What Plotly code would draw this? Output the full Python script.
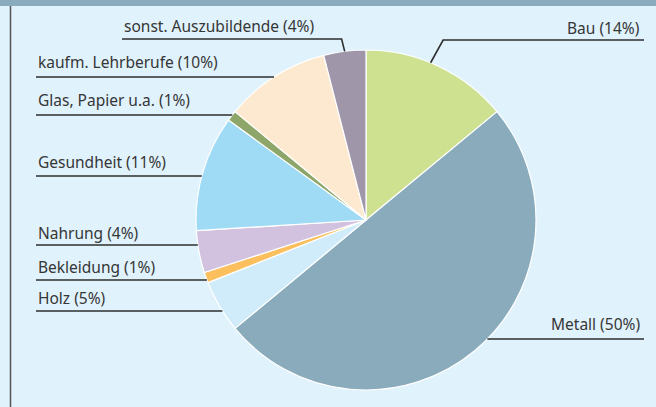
import math
import plotly.graph_objects as go

# ---- data ----
labels = ["Bau", "Metall", "Holz", "Bekleidung", "Nahrung", "Gesundheit",
          "Glas, Papier u.a.", "kaufm. Lehrberufe", "sonst. Auszubildende"]
values = [14, 50, 5, 1, 4, 11, 1, 10, 4]
colors = ["#cde191", "#8aabbc", "#d0ecfa", "#fbbf5d", "#d2c2e0", "#a0dbf6",
          "#8ea66a", "#fde9cf", "#a096a9"]

# ---- layout (pixels) ----
W, H = 656, 407
CX, CY, R = 366, 220, 170
BG = "#e0f2fc"
TEXT = "#363636"

# label layout: side, text-center y, leader-line y, text x anchor
label_layout = {
    "Bau": ("right", 28, 40, 642),
    "Metall": ("right", 324, 339, 642),
    "Holz": ("left", 298, 311, 36),
    "Bekleidung": ("left", 267, 280, 36),
    "Nahrung": ("left", 233, 245, 36),
    "Gesundheit": ("left", 162, 176, 36),
    "Glas, Papier u.a.": ("left", 100, 115, 36),
    "kaufm. Lehrberufe": ("left", 62, 77, 36),
    "sonst. Auszubildende": ("left", 26, 39, 122),
}
diagonal = {"Bau", "sonst. Auszubildende"}


def px(x):
    return x / W


def py(y):
    return 1 - y / H


fig = go.Figure(go.Pie(
    labels=labels, values=values, sort=False, direction="clockwise",
    rotation=0, marker=dict(colors=colors, line=dict(color="white", width=1.2)),
    textinfo="none", hoverinfo="label+percent", showlegend=False,
    domain=dict(x=[px(CX - R), px(CX + R)], y=[py(CY + R), py(CY - R)]),
))

shapes = []
annotations = []
total = sum(values)
cum = 0
for lab, v in zip(labels, values):
    mid = (cum + v / 2) / total * 2 * math.pi
    cum += v
    side, ty, ly, tx = label_layout[lab]
    if lab in diagonal:
        ang = mid - 0.05 if side == "right" else mid
        ex = CX + R * math.sin(ang)
        ey = CY - R * math.cos(ang)
        if side == "right":
            kx = ex + (ey - ly) * 0.55
            pts = [(tx + 2, ly), (kx, ly), (ex, ey)]
        else:
            kx = ex - (ey - ly) * 0.25
            pts = [(tx, ly), (kx, ly), (ex, ey)]
    else:
        dy = ly - CY
        dx = math.sqrt(max(R * R - dy * dy, 0))
        ex = CX + dx if side == "right" else CX - dx
        pts = [(tx + 2, ly), (ex, ly)] if side == "right" else [(tx, ly), (ex, ly)]
    path = "M " + " L ".join(f"{px(a)},{py(b)}" for a, b in pts)
    shapes.append(dict(type="path", path=path, xref="paper", yref="paper",
                       line=dict(color="#2e2e2e", width=1.6)))
    annotations.append(dict(
        text=f"{lab} ({v}%)", x=px(tx), y=py(ty), xref="paper", yref="paper",
        xanchor="right" if side == "right" else "left", yanchor="middle",
        showarrow=False, font=dict(family="Noto Sans", size=15.5, color=TEXT)))

# top bar and left border
shapes.append(dict(type="rect", xref="paper", yref="paper", x0=0, x1=1,
                   y0=py(6), y1=1, fillcolor="#8aabbe", line=dict(width=0)))
shapes.append(dict(type="line", xref="paper", yref="paper", x0=px(10.5), x1=px(10.5),
                   y0=0, y1=py(6), line=dict(color="#555555", width=1.5)))

fig.update_layout(
    width=W, height=H, margin=dict(l=0, r=0, t=0, b=0),
    paper_bgcolor=BG, plot_bgcolor=BG,
    shapes=shapes, annotations=annotations,
)
fig.write_html("out.html", config={"displayModeBar": False},
               post_script="document.body.style.margin='0';document.body.style.overflow='hidden';")
